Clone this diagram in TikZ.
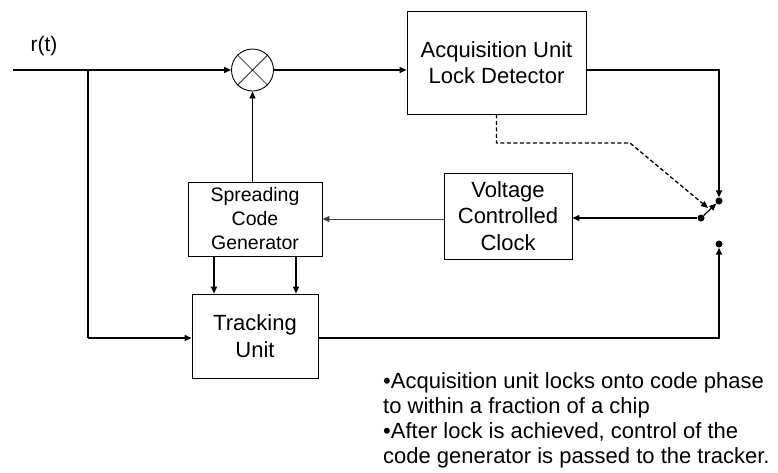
\documentclass[tikz,border=0pt]{standalone}
\usepackage{fontspec}
\setmainfont{Liberation Sans}
\usetikzlibrary{arrows.meta}
\begin{document}
\begin{tikzpicture}[x=1pt,y=-1pt,
  blk/.style={draw, line width=0.9pt, inner sep=0pt, align=center, font=\fontsize{22}{26.5}\selectfont},
  wire/.style={line width=1.6pt},
  thinwire/.style={line width=0.9pt},
  arr/.style={-{Triangle[length=7pt,width=6pt]}},
  dot/.style={circle, fill, inner sep=0pt, minimum size=7pt},
  txt/.style={anchor=base west, inner sep=0pt, font=\fontsize{22}{25}\selectfont}]
\useasboundingbox (0,0) rectangle (778,472);

% blocks
\node[blk, minimum width=179pt, minimum height=103pt] (acq) at (496.5,62.5) {Acquisition Unit\\Lock Detector};
\node[blk, minimum width=128pt, minimum height=86pt] (vcc) at (508,216) {Voltage\\Controlled\\Clock};
\node[blk, minimum width=134pt, minimum height=74pt, font=\fontsize{19.5}{24}\selectfont] (scg) at (255,219) {Spreading\\Code\\Generator};
\node[blk, minimum width=126pt, minimum height=84pt] (trk) at (255,336) {Tracking\\Unit};

% multiplier
\node[draw, circle, line width=0.9pt, minimum size=42pt, inner sep=0pt] (mul) at (252.5,70) {};
\draw[line width=0.7pt] (mul.north west) -- (mul.south east) (mul.north east) -- (mul.south west);

% label
\node[inner sep=0pt, font=\fontsize{21}{24}\selectfont] (rt) at (44,46) {r(t)};

% switch contacts
\node[dot] (ctop) at (719,201) {};
\node[dot] (cbot) at (719,244) {};
\node[dot] (pivot) at (701,218) {};

% helper coordinates
\coordinate (in) at (13,70);
\coordinate (br) at (88,70);
\coordinate (bl) at (88,338);
\coordinate (s1) at (214,0);
\coordinate (s2) at (296,0);
\coordinate (d1) at (496.5,143);
\coordinate (d2) at (630,143);
\coordinate (darr) at (708,208);

% connectors
\draw[wire, arr] (in) -- (mul.west);
\draw[wire] (br) -- (bl);
\draw[wire, arr] (bl) -- (bl -| trk.west);
\draw[wire, arr] (mul.east) -- (mul.east -| acq.west);
\draw[wire, arr] (mul -| acq.east) -- (mul -| ctop) -- (ctop);
\draw[thinwire, arr] (scg.north -| mul) -- (mul.south);
\draw[wire, arr] (scg.south -| s1) -- (trk.north -| s1);
\draw[wire, arr] (scg.south -| s2) -- (trk.north -| s2);
\draw[thinwire, arr, black!75] (vcc.west |- scg.east) -- (scg.east);
\draw[wire, arr] (pivot) -- (pivot -| vcc.east);
\draw[line width=1.2pt, arr] (pivot) -- (ctop);
\draw[wire, arr] (trk.east |- bl) -- (bl -| cbot) -- (cbot);
\draw[line width=1.3pt, dash pattern=on 4pt off 2.5pt, arr] (acq.south) -- (d1) -- (d2) -- (darr);

% notes
\node[txt] (t1) at (383,388) {•Acquisition unit locks onto code phase};
\node[txt] (t2) at (383,413) {to within a fraction of a chip};
\node[txt] (t3) at (383,438) {•After lock is achieved, control of the};
\node[txt] (t4) at (383,463) {code generator is passed to the tracker.};
\end{tikzpicture}
\end{document}
